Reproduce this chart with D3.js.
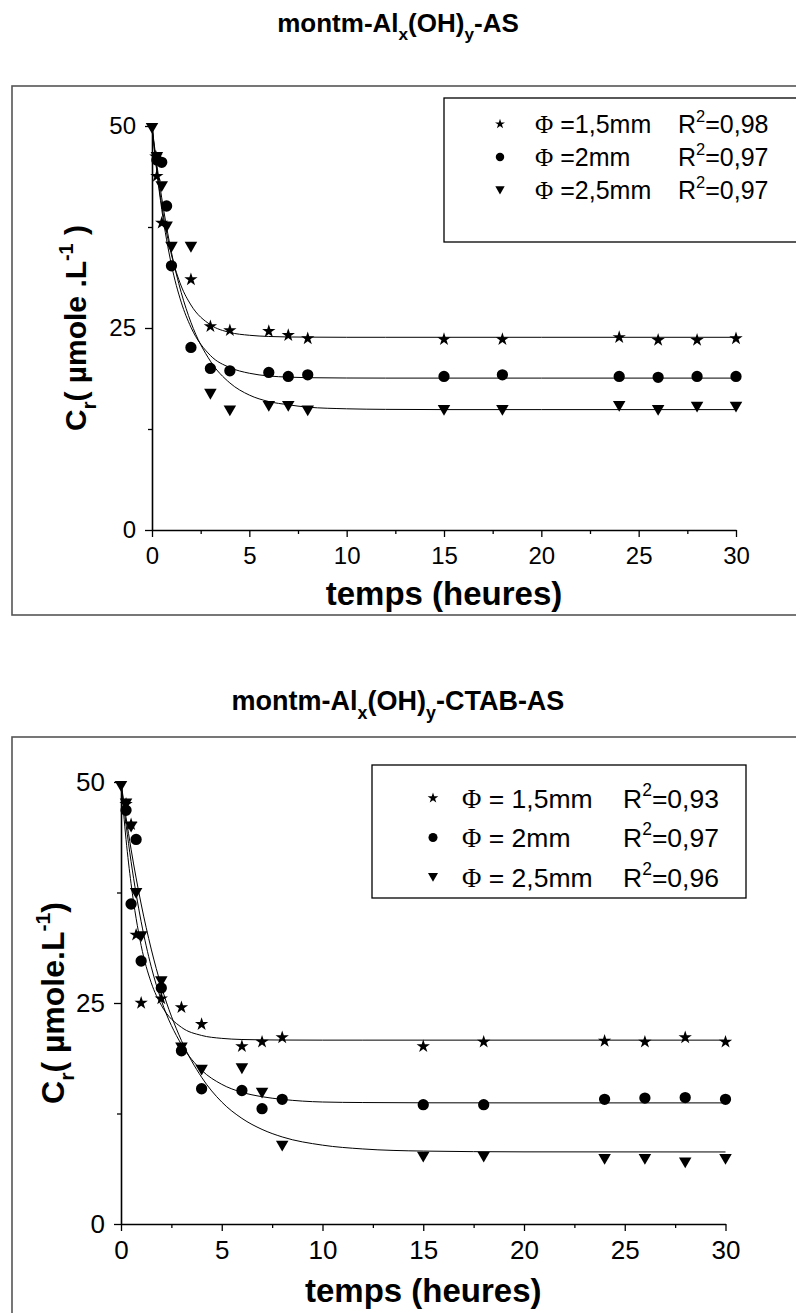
<!DOCTYPE html>
<html>
<head>
<meta charset="utf-8">
<script src="https://cdn.jsdelivr.net/npm/d3@7"></script>
<style>
  body { margin: 0; background: #fff; }
  text { font-family: "Liberation Sans", Arial, sans-serif; fill: #000; }
</style>
</head>
<body>
<div id="chart"></div>
<script>
// ---- data (time in hours, Cr in µmole/L) ----

// panel 1 : montm-Alx(OH)y-AS
const topStarT = [0.2, 0.25, 0.5, 2, 3, 4, 6, 7, 8, 15, 18, 24, 26, 28, 30];
const topStarC = [46.2, 43.8, 38.0, 31.0, 25.2, 24.7, 24.6, 24.1, 23.7, 23.6, 23.6, 23.85, 23.5, 23.5, 23.7];
const topCircT = [0.25, 0.5, 0.75, 1, 2, 3, 4, 6, 7, 8, 15, 18, 24, 26, 28, 30];
const topCircC = [45.8, 45.5, 40.1, 32.7, 22.6, 20.0, 19.7, 19.5, 19.0, 19.2, 19.0, 19.2, 19.0, 18.9, 19.0, 19.0];
const topTriT = [0, 0.25, 0.5, 0.75, 1, 2, 3, 4, 6, 7, 8, 15, 18, 24, 26, 28, 30];
const topTriC = [49.8, 46.2, 42.6, 37.6, 35.1, 35.1, 16.9, 14.85, 15.4, 15.4, 14.85, 14.9, 14.9, 15.4, 14.9, 15.3, 15.3];

// panel 2 : montm-Alx(OH)y-CTAB-AS
const botStarT = [0.25, 0.5, 0.75, 1, 2, 3, 4, 6, 7, 8, 15, 18, 24, 26, 28, 30];
const botStarC = [47.5, 45.2, 32.7, 25.0, 25.5, 24.5, 22.6, 20.1, 20.6, 21.1, 20.1, 20.6, 20.7, 20.6, 21.1, 20.6];
const botCircT = [0.25, 0.5, 0.75, 1, 2, 3, 4, 6, 7, 8, 15, 18, 24, 26, 28, 30];
const botCircC = [46.8, 36.2, 43.5, 29.75, 26.7, 19.6, 15.3, 15.1, 13.05, 14.1, 13.5, 13.5, 14.1, 14.25, 14.3, 14.1];
const botTriT = [0, 0.25, 0.5, 0.75, 1, 2, 3, 4, 6, 7, 8, 15, 18, 24, 26, 28, 30];
const botTriC = [49.6, 47.6, 45.0, 37.5, 32.6, 27.5, 20.0, 17.5, 17.65, 14.9, 8.9, 7.65, 7.65, 7.4, 7.4, 7.0, 7.4];

// fitted curves
const fitT = [0, 0.25, 0.5, 1, 1.5, 2, 3, 4, 5, 6, 7, 8, 10, 12, 15, 20, 30];
const topFitStar = [50, 44.5, 40.2, 34.05, 30.2, 27.85, 25.4, 24.45, 24.1, 23.95, 23.89, 23.87, 23.85, 23.85, 23.85, 23.85, 23.85];
const topFitCirc = [50, 44.3, 39.7, 32.8, 28.2, 25.1, 21.6, 20.1, 19.4, 19.06, 18.92, 18.85, 18.81, 18.8, 18.8, 18.8, 18.8];
const topFitTri = [50, 45.2, 41.1, 34.35, 29.4, 25.7, 20.9, 18.2, 16.7, 15.9, 15.5, 15.2, 15.0, 14.93, 14.9, 14.9, 14.9];
const botFitStar = [50, 43.5, 38.5, 31.5, 27.3, 24.75, 22.25, 21.33, 21.0, 20.87, 20.83, 20.81, 20.8, 20.8, 20.8, 20.8, 20.8];
const botFitCirc = [50, 45.2, 41.0, 34.2, 29.1, 25.3, 20.3, 17.4, 15.8, 14.9, 14.4, 14.1, 13.8, 13.74, 13.71, 13.7, 13.7];
const botFitTri = [50, 46.0, 42.4, 36.2, 31.1, 26.9, 20.75, 16.6, 13.8, 11.95, 10.7, 9.85, 8.92, 8.49, 8.25, 8.16, 8.15];

// axis ticks
const xMajor = [0, 5, 10, 15, 20, 25, 30];
const xMinor = [2.5, 7.5, 12.5, 17.5, 22.5, 27.5];
const yMajor = [0, 25, 50];
const yMinor = [12.5, 37.5];

// legend labels
const topLegend = [["star", " =1,5mm", "0,98"], ["circle", " =2mm", "0,97"], ["tri", " =2,5mm", "0,97"]];
const botLegend = [["star", " = 1,5mm", "0,93"], ["circle", " = 2mm", "0,97"], ["tri", " = 2,5mm", "0,96"]];

const svg = d3.select("#chart").append("svg")
    .attr("width", 796)
    .attr("height", 1313);

// text with sub / superscripts: parts = [[string, null|"sub"|"sup"], ...]
function rich(t, parts, size) {
    let cur = 0;
    parts.forEach(function(p) {
        let off = p[1] == "sub" ? size * 0.32 : p[1] == "sup" ? -size * 0.45 : 0;
        t.append("tspan")
            .attr("dy", off - cur)
            .attr("font-size", p[1] ? size * 0.66 : size)
            .text(p[0]);
        cur = off;
    });
}

function markerPath(kind, scale) {
    scale = scale || 1;
    if (kind == "star") return d3.symbol(d3.symbolStar, 55 * scale * scale)();
    if (kind == "circle") return d3.symbol(d3.symbolCircle, 100 * scale * scale)();
    return d3.symbol(d3.symbolTriangle, 68 * scale * scale)();
}

function markerTransform(kind, px, py) {
    if (kind == "tri") return "translate(" + px + "," + (py - 1) + ") rotate(180)";
    return "translate(" + px + "," + py + ")";
}

function panel(o) {
    let g = svg.append("g");

    g.append("text")
        .attr("x", 398)
        .attr("y", o.titleY)
        .attr("text-anchor", "middle")
        .attr("font-weight", "bold")
        .attr("font-size", o.titleFs)
        .call(rich, o.title, o.titleFs);

    g.append("rect")
        .attr("x", o.frame[0]).attr("y", o.frame[1])
        .attr("width", o.frame[2]).attr("height", o.frame[3])
        .attr("fill", "none")
        .attr("stroke", "#555")
        .attr("stroke-width", 1.6);

    let x = d3.scaleLinear().domain([0, 30]).range([o.x0, o.x1]);
    let y = d3.scaleLinear().domain([0, 50]).range([o.y0, o.y1]);

    // axes
    g.append("g")
        .attr("transform", "translate(0," + o.y0 + ")")
        .call(d3.axisBottom(x).tickValues(xMajor).tickSize(7).tickSizeOuter(0).tickPadding(10));
    g.append("g")
        .attr("transform", "translate(0," + o.y0 + ")")
        .call(d3.axisBottom(x).tickValues(xMinor).tickSize(4).tickSizeOuter(0).tickFormat(""))
        .select(".domain").remove();
    g.append("g")
        .attr("transform", "translate(" + o.x0 + ",0)")
        .call(d3.axisLeft(y).tickValues(yMajor).tickSize(7).tickSizeOuter(0).tickPadding(9));
    g.append("g")
        .attr("transform", "translate(" + o.x0 + ",0)")
        .call(d3.axisLeft(y).tickValues(yMinor).tickSize(4).tickSizeOuter(0).tickFormat(""))
        .select(".domain").remove();

    g.selectAll(".domain").attr("stroke", "#000").attr("stroke-width", 1.6);
    g.selectAll(".tick line").attr("stroke", "#000").attr("stroke-width", 1.3);
    g.selectAll(".tick text")
        .attr("font-family", "'Liberation Sans', Arial, sans-serif")
        .attr("font-size", o.tickFs)
        .attr("fill", "#000");

    // axis titles
    g.append("text")
        .attr("x", (o.x0 + o.x1) / 2)
        .attr("y", o.y0 + o.xTitleDy)
        .attr("text-anchor", "middle")
        .attr("font-weight", "bold")
        .attr("font-size", 33)
        .text("temps (heures)");

    g.append("text")
        .attr("transform", "translate(" + o.yTitleX + "," + (o.y0 + o.y1) / 2 + ") rotate(-90)")
        .attr("text-anchor", "middle")
        .attr("font-weight", "bold")
        .attr("font-size", o.yTitleFs)
        .call(rich, o.yTitle, o.yTitleFs);

    // fitted curves
    let line = d3.line()
        .x(function(d) { return x(d[0]); })
        .y(function(d) { return y(d[1]); })
        .curve(d3.curveMonotoneX);
    o.fits.forEach(function(f) {
        g.append("path")
            .datum(fitT.map(function(t, i) { return [t, f[i]]; }))
            .attr("d", line)
            .attr("fill", "none")
            .attr("stroke", "#000")
            .attr("stroke-width", 1);
    });

    // data points
    o.series.forEach(function(s) {
        let pts = s.t.map(function(t, i) { return [t, s.c[i]]; });
        g.append("g").selectAll("path")
            .data(pts)
            .enter().append("path")
            .attr("d", markerPath(s.kind))
            .attr("transform", function(d) { return markerTransform(s.kind, x(d[0]), y(d[1])); })
            .attr("fill", "#000");
    });

    // legend
    let L = o.legend;
    g.append("rect")
        .attr("x", L.box[0]).attr("y", L.box[1])
        .attr("width", L.box[2]).attr("height", L.box[3])
        .attr("fill", "#fff")
        .attr("stroke", "#000")
        .attr("stroke-width", 1.3);
    L.rows.forEach(function(r, i) {
        let ry = L.y0 + i * L.dy;
        g.append("path")
            .attr("d", markerPath(r[0], L.msize))
            .attr("transform", markerTransform(r[0], L.mx, ry))
            .attr("fill", "#000");
        let t = g.append("text")
            .attr("x", L.tx)
            .attr("y", ry + L.fs * 0.36)
            .attr("font-size", L.fs);
        t.append("tspan").attr("font-family", "'Liberation Serif', serif").text("\u03A6");
        t.append("tspan").text(r[1]);
        let t2 = g.append("text")
            .attr("x", L.rx)
            .attr("y", ry + L.fs * 0.36)
            .attr("font-size", L.fs);
        rich(t2, [["R", null], ["2", "sup"], ["=" + r[2], null]], L.fs);
    });
}

panel({
    title: [["montm-Al", null], ["x", "sub"], ["(OH)", null], ["y", "sub"], ["-AS", null]],
    titleY: 32, titleFs: 26,
    frame: [12, 86, 800, 529],
    x0: 152, x1: 736, y0: 530, y1: 126,
    tickFs: 24,
    xTitleDy: 75,
    yTitleX: 86, yTitleFs: 30,
    yTitle: [["C", null], ["r", "sub"], ["( \u00B5mole .L", null], ["-1", "sup"], [" )", null]],
    fits: [topFitStar, topFitCirc, topFitTri],
    series: [
        {kind: "star", t: topStarT, c: topStarC},
        {kind: "circle", t: topCircT, c: topCircC},
        {kind: "tri", t: topTriT, c: topTriC}
    ],
    legend: {box: [444, 98, 400, 144], rows: topLegend, y0: 124, dy: 33, mx: 500, tx: 535, rx: 678, fs: 25, msize: 0.75}
});

panel({
    title: [["montm-Al", null], ["x", "sub"], ["(OH)", null], ["y", "sub"], ["-CTAB-AS", null]],
    titleY: 710, titleFs: 27,
    frame: [12, 737, 800, 620],
    x0: 121, x1: 725.5, y0: 1224, y1: 782,
    tickFs: 26,
    xTitleDy: 78,
    yTitleX: 64, yTitleFs: 32,
    yTitle: [["C", null], ["r", "sub"], ["( \u00B5mole.L", null], ["-1", "sup"], [")", null]],
    fits: [botFitStar, botFitCirc, botFitTri],
    series: [
        {kind: "star", t: botStarT, c: botStarC},
        {kind: "circle", t: botCircT, c: botCircC},
        {kind: "tri", t: botTriT, c: botTriC}
    ],
    legend: {box: [372, 765, 374, 133], rows: botLegend, y0: 798, dy: 39.5, mx: 433, tx: 462, rx: 623, fs: 26.5, msize: 0.8}
});
</script>
</body>
</html>
